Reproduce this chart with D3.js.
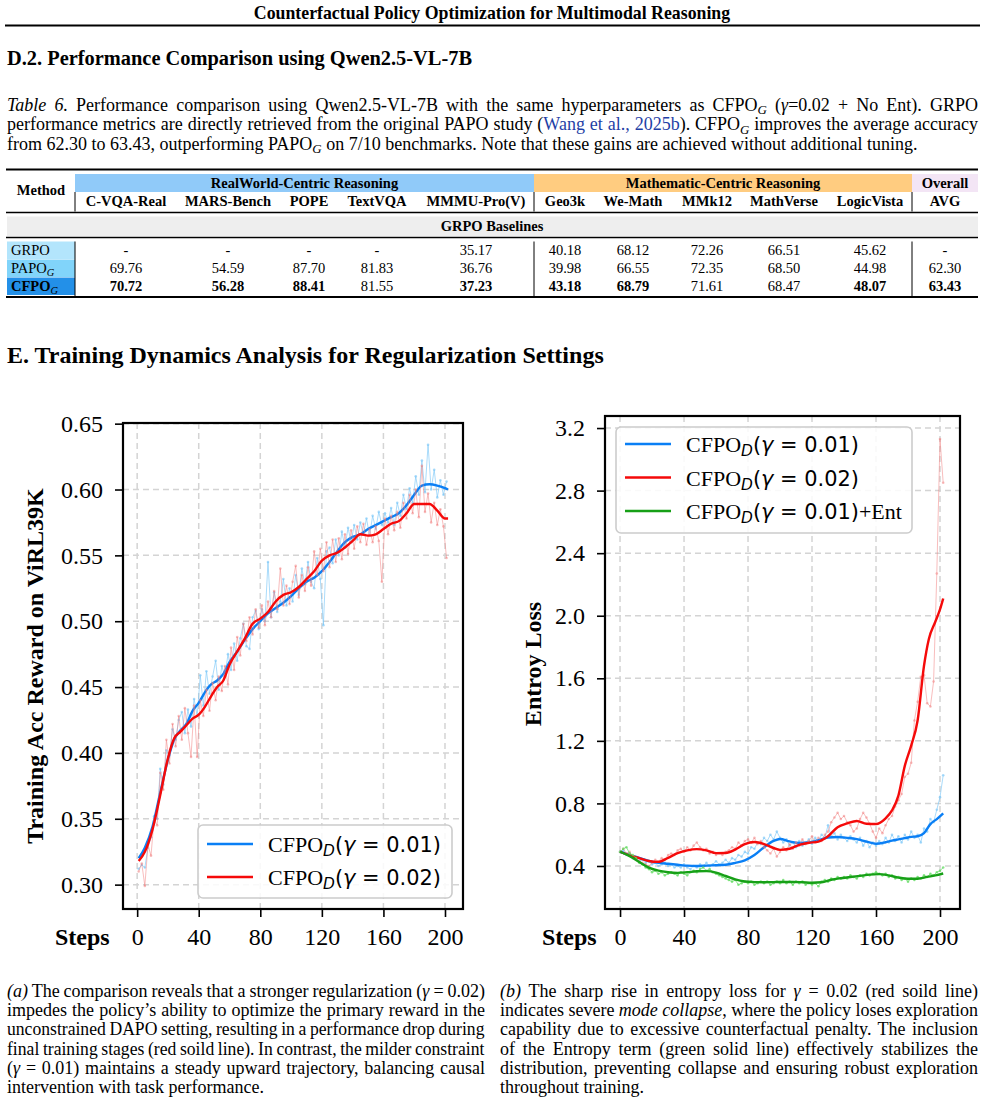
<!DOCTYPE html>
<html>
<head>
<meta charset="utf-8">
<script src="https://cdn.jsdelivr.net/npm/d3@7"></script>
<style>
  body { margin: 0; background: #fff; }
  svg text { font-family: "Liberation Serif", "Times New Roman", Times, serif; fill: #000; }
</style>
</head>
<body>
<svg id="page" width="985" height="1106"></svg>
<script>
// ---------------- data ----------------
var runningTitle = "Counterfactual Policy Optimization for Multimodal Reasoning";

// Table 6
var benchmarks = ["C-VQA-Real", "MARS-Bench", "POPE", "TextVQA", "MMMU-Pro(V)",
                  "Geo3k", "We-Math", "MMk12", "MathVerse", "LogicVista", "AVG"];
var groups = ["RealWorld-Centric Reasoning", "Mathematic-Centric Reasoning", "Overall"];
var methods = ["GRPO", "PAPO", "CFPO"];
var grpoRow = ["-", "-", "-", "-", "35.17", "40.18", "68.12", "72.26", "66.51", "45.62", "-"];
var papoRow = ["69.76", "54.59", "87.70", "81.83", "36.76", "39.98", "66.55", "72.35", "68.50", "44.98", "62.30"];
var cfpoRow = ["70.72", "56.28", "88.41", "81.55", "37.23", "43.18", "68.79", "71.61", "68.47", "48.07", "63.43"];
var cfpoBest = [true, true, true, false, true, true, true, false, false, true, true];

// (a) training accuracy reward, raw every 2 steps
var accRawSteps = d3.range(1, 202, 2);
var accRaw01 = [
  0.312,0.315,0.313,0.328,0.336,0.352,0.350,0.388,0.376,0.402,
  0.398,0.418,0.410,0.425,0.431,0.415,0.433,0.420,0.441,0.428,
  0.459,0.436,0.462,0.445,0.458,0.470,0.448,0.466,0.458,0.475,
  0.463,0.483,0.470,0.487,0.498,0.481,0.479,0.503,0.508,0.494,
  0.509,0.500,0.545,0.503,0.522,0.507,0.515,0.532,0.512,0.525,
  0.515,0.535,0.520,0.540,0.528,0.545,0.530,0.525,0.548,0.532,
  0.497,0.553,0.556,0.544,0.562,0.550,0.568,0.556,0.571,0.560,
  0.573,0.562,0.575,0.566,0.578,0.565,0.580,0.570,0.583,0.573,
  0.582,0.575,0.586,0.573,0.590,0.580,0.596,0.585,0.601,0.590,
  0.610,0.596,0.622,0.598,0.634,0.600,0.615,0.594,0.607,0.596,
  0.606];
var accRaw02 = [
  0.310,0.316,0.299,0.330,0.322,0.350,0.345,0.385,0.372,0.410,
  0.392,0.422,0.405,0.428,0.410,0.434,0.415,0.397,0.436,0.397,
  0.440,0.428,0.448,0.432,0.453,0.440,0.458,0.447,0.466,0.452,
  0.480,0.463,0.488,0.474,0.498,0.485,0.503,0.490,0.509,0.495,
  0.512,0.497,0.515,0.503,0.523,0.509,0.540,0.512,0.527,0.513,
  0.530,0.542,0.518,0.535,0.523,0.541,0.527,0.553,0.535,0.555,
  0.538,0.560,0.541,0.562,0.545,0.563,0.547,0.566,0.551,0.569,
  0.555,0.572,0.560,0.574,0.558,0.570,0.560,0.572,0.561,0.530,
  0.578,0.566,0.580,0.569,0.583,0.571,0.590,0.578,0.596,0.582,
  0.600,0.579,0.618,0.583,0.597,0.575,0.590,0.573,0.585,0.572,
  0.548];
var accSmoothSteps = [1,5,10,15,20,24,28,32,36,40,44,48,52,56,60,65,70,75,80,85,90,95,100,105,110,115,120,125,130,135,140,145,150,155,160,165,170,175,180,185,190,195,200,202];
var accSmooth01 = [0.320,0.328,0.344,0.370,0.395,0.410,0.417,0.422,0.432,0.438,
  0.446,0.452,0.455,0.460,0.469,0.477,0.486,0.494,0.500,0.506,
  0.510,0.514,0.519,0.525,0.530,0.533,0.538,0.545,0.553,0.560,
  0.564,0.566,0.570,0.573,0.576,0.579,0.582,0.588,0.596,0.603,
  0.604,0.603,0.601,0.600];
var accSmooth02 = [0.318,0.325,0.342,0.368,0.396,0.411,0.416,0.421,0.426,0.429,
  0.435,0.443,0.450,0.455,0.467,0.477,0.487,0.498,0.502,0.507,
  0.515,0.520,0.522,0.526,0.532,0.538,0.546,0.550,0.552,0.556,
  0.561,0.566,0.565,0.566,0.570,0.574,0.576,0.582,0.589,0.589,
  0.589,0.584,0.578,0.578];
var accTicks = [0.30, 0.35, 0.40, 0.45, 0.50, 0.55, 0.60, 0.65];

// (b) entropy loss, raw every 2 steps
var entRawSteps = d3.range(0, 203, 2);
var entRaw01 = [
  0.49,0.50,0.47,0.48,0.45,0.46,0.43,0.44,0.42,0.43,
  0.41,0.42,0.40,0.41,0.42,0.40,0.41,0.39,0.40,0.39,
  0.41,0.39,0.38,0.40,0.39,0.41,0.40,0.42,0.40,0.41,
  0.43,0.41,0.42,0.44,0.42,0.45,0.44,0.47,0.46,0.49,
  0.48,0.52,0.51,0.55,0.54,0.58,0.56,0.60,0.57,0.62,
  0.58,0.55,0.57,0.53,0.55,0.52,0.56,0.53,0.55,0.57,
  0.54,0.58,0.56,0.60,0.58,0.66,0.59,0.61,0.57,0.60,
  0.58,0.56,0.59,0.57,0.55,0.58,0.53,0.56,0.52,0.55,
  0.53,0.56,0.54,0.58,0.55,0.60,0.56,0.59,0.55,0.60,
  0.57,0.62,0.58,0.60,0.55,0.64,0.62,0.70,0.68,0.76,
  0.84,0.98];
var entRaw02 = [
  0.49,0.51,0.48,0.49,0.46,0.45,0.43,0.42,0.41,0.40,
  0.42,0.44,0.43,0.45,0.44,0.47,0.48,0.47,0.50,0.51,
  0.49,0.52,0.50,0.53,0.55,0.52,0.50,0.51,0.48,0.49,
  0.47,0.48,0.47,0.49,0.50,0.52,0.51,0.55,0.53,0.56,
  0.57,0.55,0.58,0.54,0.56,0.52,0.50,0.48,0.51,0.46,
  0.49,0.52,0.50,0.54,0.51,0.55,0.53,0.57,0.54,0.56,
  0.59,0.55,0.58,0.56,0.60,0.62,0.68,0.71,0.74,0.70,
  0.72,0.68,0.66,0.62,0.64,0.70,0.74,0.71,0.67,0.62,
  0.58,0.64,0.61,0.66,0.70,0.72,0.78,0.82,0.86,0.97,
  0.99,1.06,1.33,1.45,1.61,1.62,1.44,1.42,1.58,2.27,
  3.13,2.85];
var entRawEnt = [
  0.49,0.51,0.52,0.48,0.47,0.45,0.42,0.41,0.39,0.38,
  0.36,0.37,0.35,0.36,0.34,0.35,0.36,0.35,0.34,0.36,
  0.35,0.34,0.36,0.37,0.36,0.38,0.39,0.37,0.38,0.36,
  0.35,0.34,0.33,0.32,0.31,0.30,0.31,0.28,0.29,0.30,
  0.29,0.30,0.28,0.29,0.30,0.29,0.30,0.28,0.29,0.30,
  0.29,0.31,0.29,0.30,0.28,0.30,0.29,0.30,0.28,0.29,
  0.28,0.29,0.27,0.30,0.31,0.30,0.32,0.31,0.33,0.32,
  0.33,0.32,0.34,0.33,0.32,0.34,0.33,0.35,0.34,0.35,
  0.36,0.35,0.34,0.35,0.33,0.34,0.32,0.33,0.31,0.32,
  0.30,0.32,0.31,0.33,0.32,0.34,0.33,0.35,0.34,0.36,
  0.37,0.39];
var entSmoothSteps01 = [0,6,12,18,24,30,36,42,48,54,60,66,72,78,84,90,96,100,106,112,118,124,130,136,142,148,154,160,166,170,174,178,182,186,190,194,198,202];
var entSmooth01 = [0.491,0.470,0.452,0.432,0.420,0.414,0.408,0.402,0.400,0.402,
  0.405,0.408,0.420,0.436,0.470,0.520,0.560,0.573,0.557,0.547,
  0.550,0.565,0.582,0.585,0.580,0.572,0.556,0.542,0.552,0.562,
  0.570,0.578,0.586,0.590,0.610,0.668,0.700,0.737];
var entSmoothSteps02 = [0,6,12,18,24,30,36,42,48,54,60,66,72,78,84,90,96,100,106,112,118,124,130,136,142,148,154,160,166,170,174,178,182,186,190,193,197,200,202];
var entSmooth02 = [0.491,0.468,0.450,0.432,0.426,0.452,0.482,0.500,0.508,0.500,
  0.482,0.483,0.505,0.540,0.553,0.540,0.515,0.503,0.510,0.535,
  0.548,0.556,0.590,0.648,0.672,0.688,0.670,0.668,0.705,0.755,
  0.850,1.040,1.170,1.330,1.680,1.850,1.960,2.040,2.110];
var entSmoothStepsEnt = [0,6,12,18,24,30,36,42,48,54,60,66,72,78,84,90,96,102,108,114,120,126,132,138,144,150,156,162,168,174,180,186,192,198,202];
var entSmoothEnt = [0.491,0.463,0.425,0.390,0.370,0.360,0.356,0.360,0.366,0.367,
  0.358,0.336,0.314,0.301,0.297,0.296,0.297,0.298,0.298,0.296,
  0.293,0.296,0.312,0.322,0.330,0.337,0.345,0.348,0.340,0.326,
  0.318,0.318,0.330,0.342,0.352];
var entTicks = [0.4, 0.8, 1.2, 1.6, 2.0, 2.4, 2.8, 3.2];
var stepTicks = [0, 40, 80, 120, 160, 200];

// ---------------- page ----------------
var serif = "'Liberation Serif','Times New Roman',Times,serif";
var sans = "'DejaVu Sans',sans-serif";
var svg = d3.select("#page");

// running head
svg.append("text")
    .attr("x", 492).attr("y", 18.5)
    .attr("text-anchor", "middle")
    .attr("font-size", 17.8).attr("font-weight", "bold")
    .text(runningTitle);
svg.append("line")
    .attr("x1", 5).attr("x2", 980).attr("y1", 25.5).attr("y2", 25.5)
    .attr("stroke", "#000").attr("stroke-width", 2);

svg.append("text")
    .attr("x", 7).attr("y", 65)
    .attr("font-size", 20.4).attr("font-weight", "bold")
    .text("D.2. Performance Comparison using Qwen2.5-VL-7B");

// one line of running text, justified to width by word spacing
// (squeezed horizontally when the words do not fit)
function textLine(x, y, width, size, segs, justify) {
    var t = svg.append("text").attr("x", x).attr("y", y).attr("font-size", size);
    var shift = 0;
    segs.forEach(function(s) {
        var ts = t.append("tspan").text(s.t);
        if (s.it) ts.attr("font-style", "italic");
        if (s.b) ts.attr("font-weight", "bold");
        if (s.link) ts.style("fill", "#1f3fa6");
        if (s.sub) {
            ts.attr("dy", size * 0.22 - shift).attr("font-size", size * 0.72).attr("font-style", "italic");
            shift = size * 0.22;
        } else if (shift) {
            ts.attr("dy", -shift);
            shift = 0;
        }
    });
    var natural = t.node().getComputedTextLength();
    var n = (segs.map(function(s){ return s.t; }).join("").match(/ /g) || []).length;
    if (justify && n) {
        var ws = (width - natural) / n;
        if (ws >= -0.8) {
            t.attr("word-spacing", ws);
        } else {
            t.attr("word-spacing", -0.8);
            var w2 = t.node().getComputedTextLength();
            t.attr("x", 0).attr("y", 0)
             .attr("transform", "translate(" + x + "," + y + ") scale(" + (width / w2) + ",1)");
        }
    } else if (natural > width) {
        t.attr("x", 0).attr("y", 0)
         .attr("transform", "translate(" + x + "," + y + ") scale(" + (width / natural) + ",1)");
    }
    return t;
}

var capSize = 18;
textLine(7, 110.5, 971, capSize, [
    {t: "Table 6.", it: true},
    {t: " Performance comparison using Qwen2.5-VL-7B with the same hyperparameters as CFPO"},
    {t: "G", sub: true},
    {t: " ("}, {t: "γ", it: true}, {t: "=0.02 + No Ent). GRPO"}
], true);
textLine(7, 130, 971, capSize, [
    {t: "performance metrics are directly retrieved from the original PAPO study ("},
    {t: "Wang et al., 2025b", link: true},
    {t: "). CFPO"}, {t: "G", sub: true},
    {t: " improves the average accuracy"}
], true);
textLine(7, 149.5, 971, capSize, [
    {t: "from 62.30 to 63.43, outperforming PAPO"}, {t: "G", sub: true},
    {t: " on 7/10 benchmarks. Note that these gains are achieved without additional tuning."}
], false);

// ---------------- table ----------------
var colX = d3.scaleOrdinal().domain(benchmarks)
    .range([126, 228, 309, 377, 476, 565, 633, 707, 784, 870, 945]);
var tSize = 14.5;
var tbl = svg.append("g");

var bands = [
    {name: groups[0], x0: 75, x1: 534, fill: "#90caf9"},
    {name: groups[1], x0: 534, x1: 912, fill: "#ffcc80"},
    {name: groups[2], x0: 912, x1: 978, fill: "#f3e5f5"}
];
tbl.selectAll("rect.band").data(bands).enter().append("rect")
    .attr("x", d => d.x0).attr("y", 174).attr("width", d => d.x1 - d.x0).attr("height", 18)
    .attr("fill", d => d.fill);
tbl.selectAll("text.band").data(bands).enter().append("text")
    .attr("x", d => (d.x0 + d.x1) / 2).attr("y", 187.5)
    .attr("text-anchor", "middle").attr("font-size", tSize).attr("font-weight", "bold")
    .text(d => d.name);
tbl.append("text").attr("x", 41).attr("y", 195).attr("text-anchor", "middle")
    .attr("font-size", tSize).attr("font-weight", "bold").text("Method");
tbl.selectAll("text.bench").data(benchmarks).enter().append("text")
    .attr("x", d => colX(d)).attr("y", 205.5)
    .attr("text-anchor", "middle").attr("font-size", tSize).attr("font-weight", "bold")
    .text(d => d);

tbl.append("rect").attr("x", 7).attr("y", 216.5).attr("width", 971).attr("height", 19.5).attr("fill", "#eeeeee");
tbl.append("text").attr("x", 492).attr("y", 231).attr("text-anchor", "middle")
    .attr("font-size", tSize).attr("font-weight", "bold").text("GRPO Baselines");

var rowY = [250, 268, 286];
var rowFill = ["#b3e5fc", "#81d4fa", "#2390e8"];
var rows = [grpoRow, papoRow, cfpoRow];
methods.forEach(function(m, i) {
    tbl.append("rect").attr("x", 7).attr("y", rowY[i] - 8.5).attr("width", 68).attr("height", 17.5)
        .attr("fill", rowFill[i]);
    var lab = tbl.append("text").attr("x", 11).attr("y", rowY[i] + 5).attr("font-size", tSize);
    var main = lab.append("tspan").text(m);
    if (i === 2) main.attr("font-weight", "bold");
    if (i > 0) lab.append("tspan").attr("dy", 3).attr("font-size", tSize * 0.72)
        .attr("font-style", "italic").text("G");
    tbl.selectAll(null).data(rows[i]).enter().append("text")
        .attr("x", (d, j) => colX(benchmarks[j])).attr("y", rowY[i] + 5)
        .attr("text-anchor", "middle").attr("font-size", tSize)
        .attr("font-weight", (d, j) => (i === 2 && cfpoBest[j]) ? "bold" : "normal")
        .text(d => d);
});

[[169.5, 2], [212.5, 1.6], [237.5, 1.6], [297, 2]].forEach(function(r) {
    tbl.append("line").attr("x1", 6).attr("x2", 978).attr("y1", r[0]).attr("y2", r[0])
        .attr("stroke", "#000").attr("stroke-width", r[1]);
});
[75, 534, 912].forEach(function(vx) {
    [[192, 211.5], [241.5, 296]].forEach(function(span) {
        tbl.append("line").attr("x1", vx).attr("x2", vx).attr("y1", span[0]).attr("y2", span[1])
            .attr("stroke", "#000").attr("stroke-width", 1);
    });
});

svg.append("text")
    .attr("x", 7).attr("y", 363)
    .attr("font-size", 24).attr("font-weight", "bold")
    .text("E. Training Dynamics Analysis for Regularization Settings");

// ---------------- charts ----------------
function legendLabel(t, gamma, suffix, size) {
    t.append("tspan").attr("font-family", serif).text("CFPO");
    t.append("tspan").attr("font-family", sans).attr("font-style", "italic")
        .attr("font-size", size * 0.7).attr("dy", size * 0.2).text("D");
    t.append("tspan").attr("font-family", sans).attr("font-size", size * 0.95).attr("dy", -size * 0.2).text("(");
    t.append("tspan").attr("font-family", sans).attr("font-size", size * 0.95).attr("font-style", "italic").text("γ");
    t.append("tspan").attr("font-family", sans).attr("font-size", size * 0.95).text(" = " + gamma + ")");
    if (suffix) t.append("tspan").attr("font-family", serif).text(suffix);
}

function drawChart(c) {
    var g = svg.append("g");
    var x = d3.scaleLinear().domain(c.xDomain).range([c.left, c.right]);
    var y = d3.scaleLinear().domain(c.yDomain).range([c.bottom, c.top]);

    // grid
    g.selectAll(null).data(stepTicks).enter().append("line")
        .attr("x1", d => x(d)).attr("x2", d => x(d)).attr("y1", c.top).attr("y2", c.bottom)
        .attr("stroke", "#d4d4d4").attr("stroke-width", 1.5).attr("stroke-dasharray", "6,4");
    g.selectAll(null).data(c.yTicks).enter().append("line")
        .attr("y1", d => y(d)).attr("y2", d => y(d)).attr("x1", c.left).attr("x2", c.right)
        .attr("stroke", "#d4d4d4").attr("stroke-width", 1.5).attr("stroke-dasharray", "6,4");

    var line = d3.line().x(d => x(d[0])).y(d => y(d[1]));
    var plot = g.append("g");
    c.series.forEach(function(s) {
        var raw = s.rawSteps.map((st, i) => [st, s.raw[i]]);
        plot.append("path").datum(raw).attr("d", line)
            .attr("fill", "none").attr("stroke", s.light).attr("stroke-width", 1)
            .attr("opacity", s.lightOpacity);
        plot.selectAll(null).data(raw).enter().append("circle")
            .attr("cx", d => x(d[0])).attr("cy", d => y(d[1])).attr("r", 1.3)
            .attr("fill", s.light).attr("opacity", s.lightOpacity);
        var sm = s.smoothSteps.map((st, i) => [st, s.smooth[i]]);
        plot.append("path").datum(sm).attr("d", line.curve(d3.curveMonotoneX))
            .attr("fill", "none").attr("stroke", s.color).attr("stroke-width", 2.4);
        line.curve(d3.curveLinear);
    });

    // axes
    var xAxis = g.append("g").attr("transform", "translate(0," + c.bottom + ")")
        .call(d3.axisBottom(x).tickValues(stepTicks).tickSize(8).tickPadding(11));
    var yAxis = g.append("g").attr("transform", "translate(" + c.left + ",0)")
        .call(d3.axisLeft(y).tickValues(c.yTicks).tickFormat(d3.format(c.fmt)).tickSize(8).tickPadding(12));
    [xAxis, yAxis].forEach(function(a) {
        a.attr("font-family", null).attr("font-size", null);
        a.select(".domain").remove();
        a.selectAll(".tick line").attr("stroke", "#000").attr("stroke-width", 1.6);
        a.selectAll(".tick text").attr("font-family", serif).attr("font-size", 24).attr("fill", "#000");
    });

    g.append("rect").attr("x", c.left).attr("y", c.top)
        .attr("width", c.right - c.left).attr("height", c.bottom - c.top)
        .attr("fill", "none").attr("stroke", "#000").attr("stroke-width", 2.2);

    g.append("text").attr("x", c.stepsX).attr("y", 945)
        .attr("font-size", 24).attr("font-weight", "bold").text("Steps");
    g.append("text")
        .attr("transform", "translate(" + c.yLabelX + "," + c.yLabelY + ") rotate(-90)")
        .attr("text-anchor", "middle").attr("font-size", 24).attr("font-weight", "bold")
        .text(c.yLabel);

    // legend
    var L = c.legend;
    g.append("rect").attr("x", L.x).attr("y", L.y).attr("width", L.w).attr("height", L.h)
        .attr("rx", 5).attr("fill", "#fff").attr("fill-opacity", 0.85)
        .attr("stroke", "#cccccc").attr("stroke-width", 1.6);
    c.series.forEach(function(s, i) {
        var ry = L.y + L.first + i * L.gap;
        g.append("line").attr("x1", L.x + 9).attr("x2", L.x + 55).attr("y1", ry).attr("y2", ry)
            .attr("stroke", s.color).attr("stroke-width", 2.4);
        var t = g.append("text").attr("x", L.x + 70).attr("y", ry + 8).attr("font-size", 22);
        legendLabel(t, s.gamma, s.suffix, 22);
    });
}

drawChart({
    left: 123, right: 463, top: 423, bottom: 909,
    xDomain: [-9.2, 211.7], yDomain: [0.2815, 0.6505],
    yTicks: accTicks, fmt: ".2f",
    yLabel: "Training Acc Reward on ViRL39K", yLabelX: 43, yLabelY: 666, stepsX: 55,
    legend: {x: 198, y: 825, w: 254, h: 73, first: 19, gap: 33},
    series: [
        {rawSteps: accRawSteps, raw: accRaw01, smoothSteps: accSmoothSteps, smooth: accSmooth01,
         color: "#0a7ff5", light: "#7cc8f8", lightOpacity: 0.65, gamma: "0.01"},
        {rawSteps: accRawSteps, raw: accRaw02, smoothSteps: accSmoothSteps, smooth: accSmooth02,
         color: "#f50a0a", light: "#f27c7c", lightOpacity: 0.5, gamma: "0.02"}
    ]
});

drawChart({
    left: 605, right: 960, top: 416, bottom: 909,
    xDomain: [-9.4, 212.5], yDomain: [0.125, 3.277],
    yTicks: entTicks, fmt: ".1f",
    yLabel: "Entroy Loss", yLabelX: 541, yLabelY: 664, stepsX: 542,
    legend: {x: 616, y: 427, w: 296, h: 106, first: 17, gap: 33.5},
    series: [
        {rawSteps: entRawSteps, raw: entRaw01, smoothSteps: entSmoothSteps01, smooth: entSmooth01,
         color: "#0a7ff5", light: "#7cc8f8", lightOpacity: 0.65, gamma: "0.01"},
        {rawSteps: entRawSteps, raw: entRaw02, smoothSteps: entSmoothSteps02, smooth: entSmooth02,
         color: "#f50a0a", light: "#f27c7c", lightOpacity: 0.5, gamma: "0.02"},
        {rawSteps: entRawSteps, raw: entRawEnt, smoothSteps: entSmoothStepsEnt, smooth: entSmoothEnt,
         color: "#17a017", light: "#5fdc5f", lightOpacity: 0.7, gamma: "0.01", suffix: "+Ent"}
    ]
});

// ---------------- sub-captions ----------------
var subSize = 18;
var capLeft = [
    [{t: "(a)", it: true}, {t: " The comparison reveals that a stronger regularization ("}, {t: "γ", it: true}, {t: " = 0.02)"}],
    [{t: "impedes the policy’s ability to optimize the primary reward in the"}],
    [{t: "unconstrained DAPO setting, resulting in a performance drop during"}],
    [{t: "final training stages (red soild line). In contrast, the milder constraint"}],
    [{t: "("}, {t: "γ", it: true}, {t: " = 0.01) maintains a steady upward trajectory, balancing causal"}],
    [{t: "intervention with task performance."}]
];
var capRight = [
    [{t: "(b)", it: true}, {t: " The sharp rise in entropy loss for "}, {t: "γ", it: true}, {t: " = 0.02 (red soild line)"}],
    [{t: "indicates severe "}, {t: "mode collapse", it: true}, {t: ", where the policy loses exploration"}],
    [{t: "capability due to excessive counterfactual penalty. The inclusion"}],
    [{t: "of the Entropy term (green solid line) effectively stabilizes the"}],
    [{t: "distribution, preventing collapse and ensuring robust exploration"}],
    [{t: "throughout training."}]
];
capLeft.forEach(function(segs, i) {
    textLine(7, 997 + i * 19.2, 478, subSize, segs, i < capLeft.length - 1);
});
capRight.forEach(function(segs, i) {
    textLine(500, 997 + i * 19.2, 478, subSize, segs, i < capRight.length - 1);
});
</script>
</body>
</html>
